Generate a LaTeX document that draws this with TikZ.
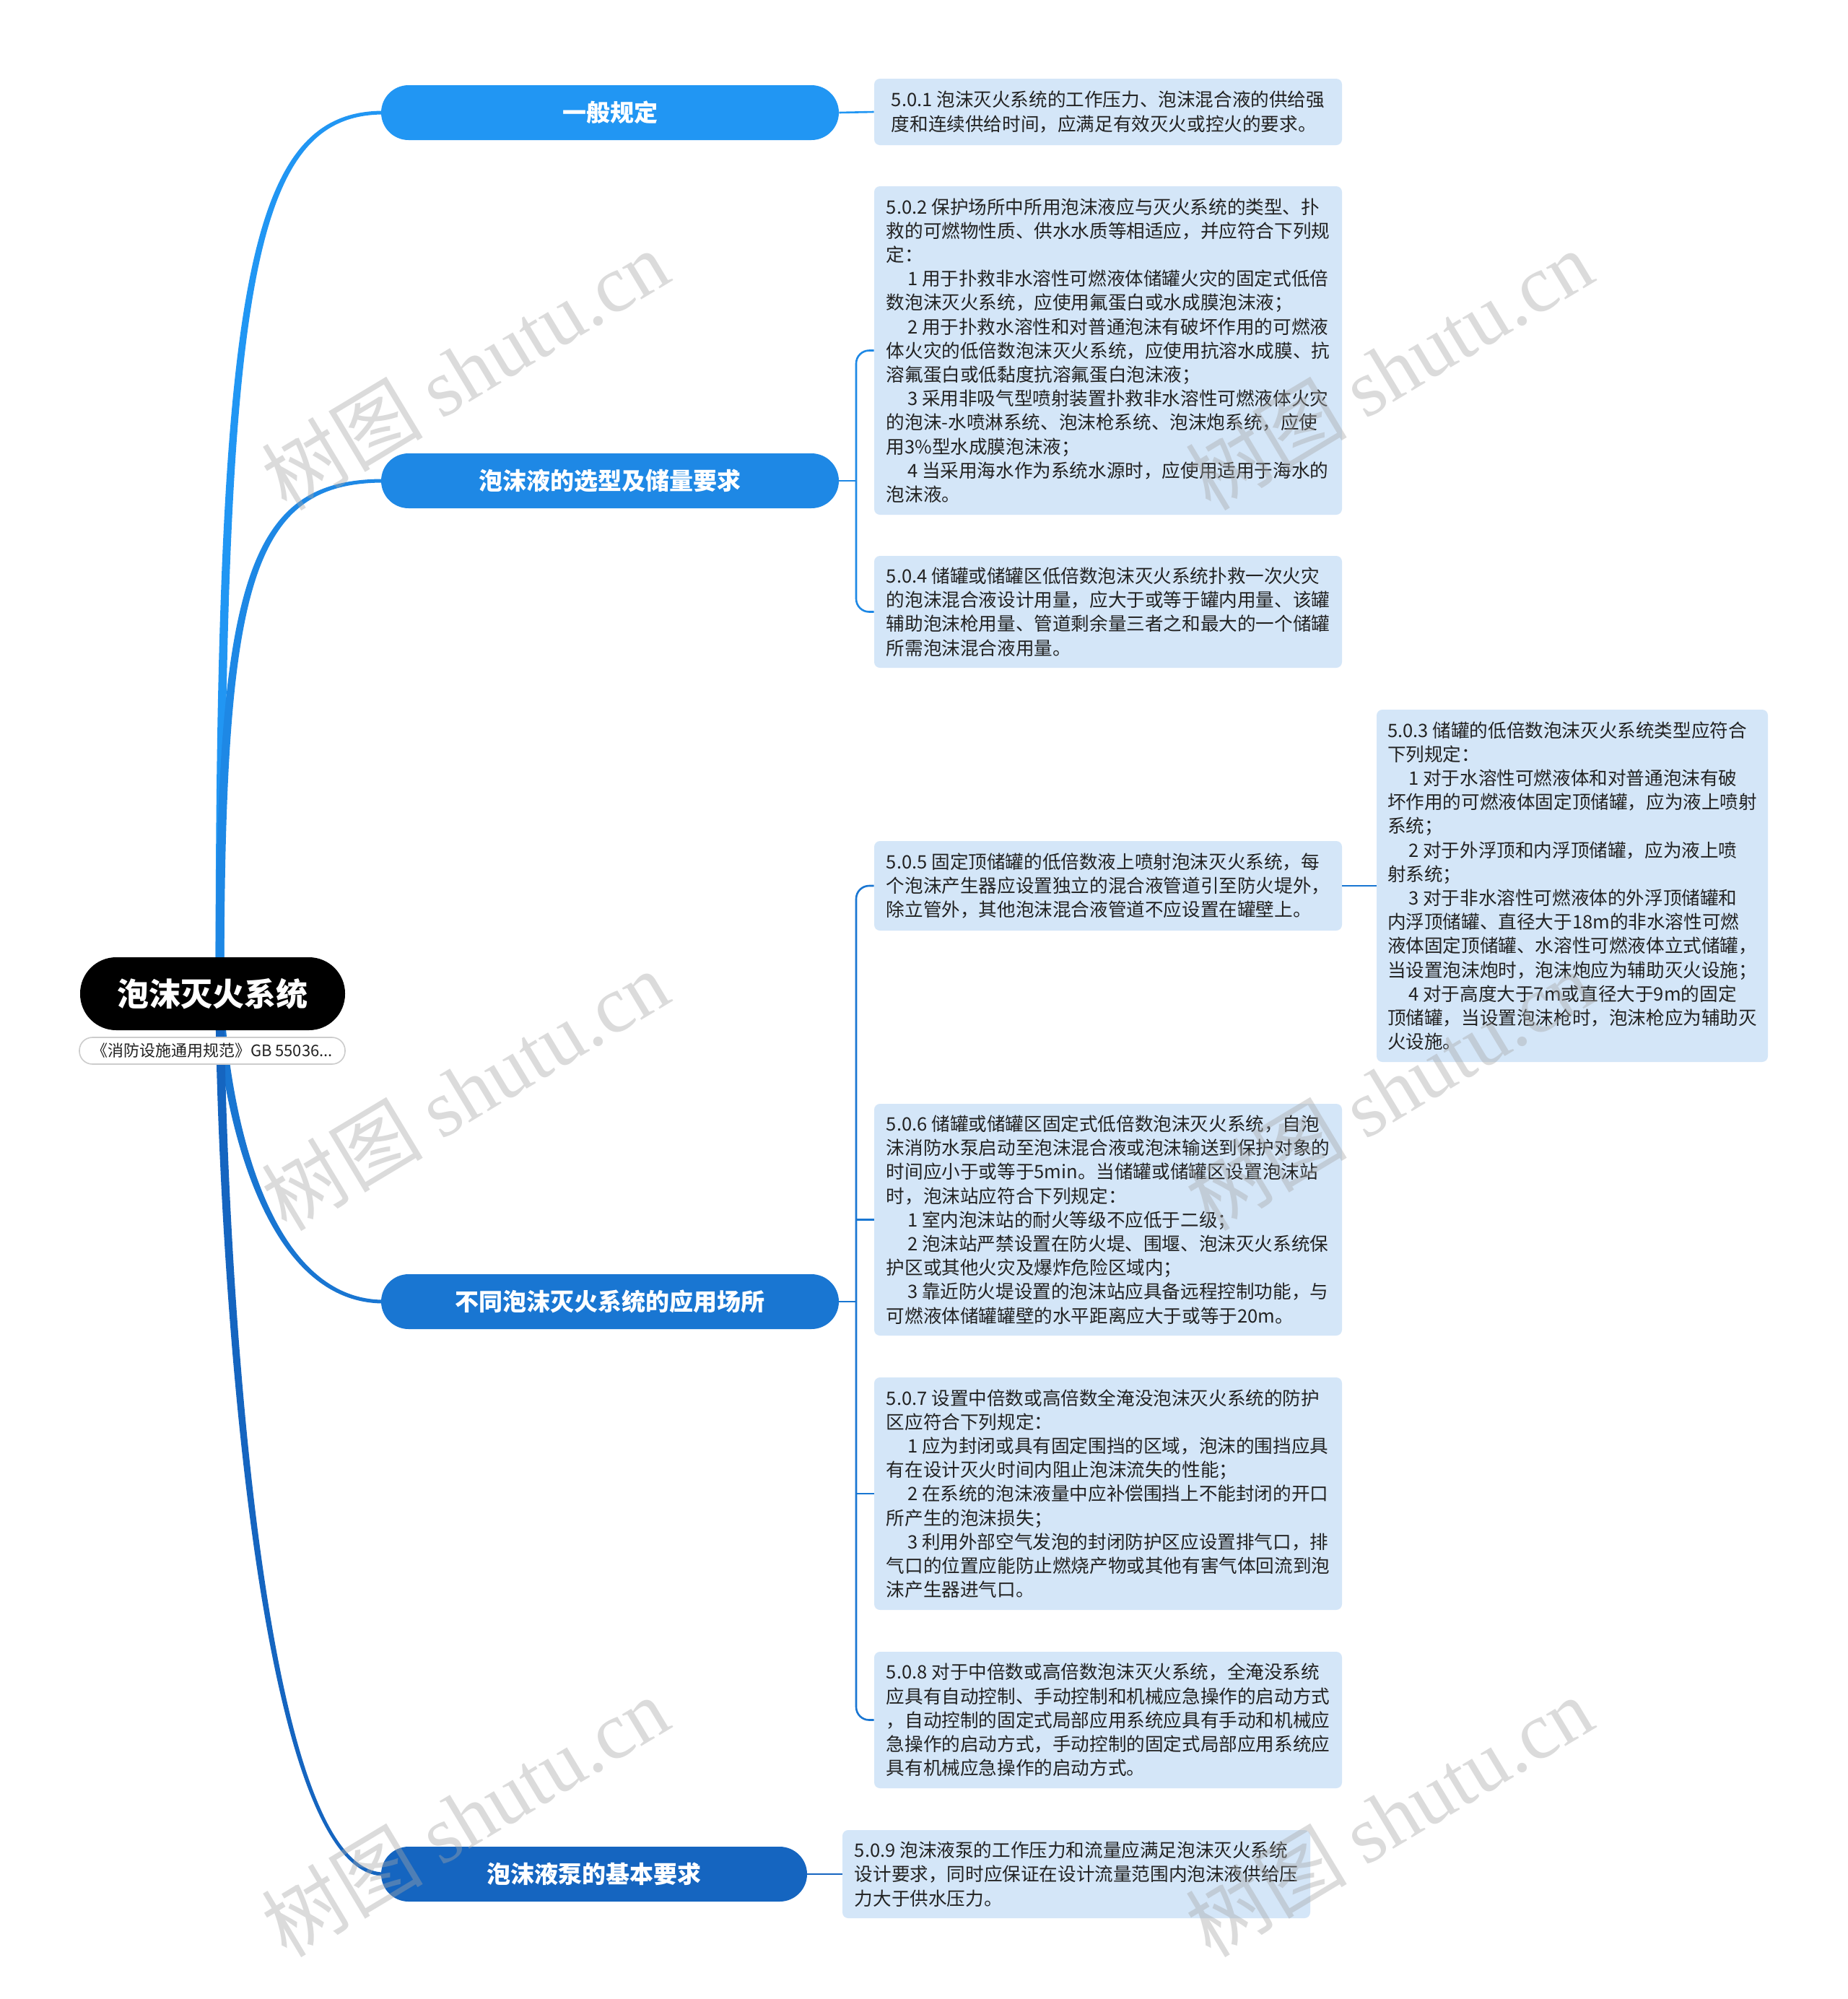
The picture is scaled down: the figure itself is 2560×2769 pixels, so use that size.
\documentclass[tikz,border=0pt]{standalone}
\usepackage{fontspec}
\setmainfont{Noto Sans CJK SC}
\newfontfamily\wmlatin{Liberation Serif}
\usetikzlibrary{calc,backgrounds}
\definecolor{cA}{HTML}{2196F3}
\definecolor{cB}{HTML}{1E88E5}
\definecolor{cC}{HTML}{1976D2}
\definecolor{cD}{HTML}{1565C0}
\definecolor{leafbg}{HTML}{D4E6F8}
\definecolor{txt}{HTML}{222222}
\definecolor{subline}{HTML}{CCCCCC}
\newcommand{\ind}{\hspace*{1.15em}}
\begin{document}
\begin{tikzpicture}[x=0.5pt,y=-0.5pt,
  leaf/.style={fill=leafbg, rounded corners=4pt, align=left, inner xsep=7pt, inner ysep=0pt,
    minimum width=324pt, text=txt, font=\fontsize{12.8pt}{16.6pt}\selectfont},
  pill/.style={rounded corners=19pt, minimum width=317pt, minimum height=38pt, inner sep=0pt,
    text=white, font=\fontsize{16.5pt}{20pt}\selectfont\bfseries},
  rootbox/.style={fill=black, rounded corners=25pt, minimum width=183.5pt, minimum height=50.5pt,
    inner sep=0pt, text=white, font=\fontsize{22pt}{26pt}\selectfont\bfseries},
  subbox/.style={fill=white, draw=subline, line width=0.8pt, rounded corners=9pt, minimum width=184pt,
    minimum height=18.5pt, inner sep=0pt, text=txt, font=\fontsize{11pt}{12pt}\selectfont},
  conn/.style={line width=1.3pt},
  wm/.style={rotate=31, text=gray!70, opacity=0.4, font=\fontsize{56pt}{60pt}\selectfont}
]
\useasboundingbox (0,0) rectangle (2560,2769);

% root
\node[rootbox] (root) at (294.5,1376.5) {泡沫灭火系统};
\node[subbox] (sub) at (294,1455.5) {《消防设施通用规范》GB 55036...};

% main branches
\node[pill, fill=cA] (p1) at (845,156) {一般规定};
\node[pill, fill=cB] (p2) at (845,666) {泡沫液的选型及储量要求};
\node[pill, fill=cC] (p3) at (845,1803) {不同泡沫灭火系统的应用场所};
\node[pill, fill=cD, minimum width=295pt] (p4) at (823,2596) {泡沫液泵的基本要求};

% leaves
\node[leaf, minimum height=46pt] (l501) at (1535,155) {5.0.1 泡沫灭火系统的工作压力、泡沫混合液的供给强\\度和连续供给时间，应满足有效灭火或控火的要求。};

\node[leaf, minimum height=227.5pt] (l502) at (1535,485.5) {5.0.2 保护场所中所用泡沫液应与灭火系统的类型、扑\\救的可燃物性质、供水水质等相适应，并应符合下列规\\定：\\\ind 1 用于扑救非水溶性可燃液体储罐火灾的固定式低倍\\数泡沫灭火系统，应使用氟蛋白或水成膜泡沫液；\\\ind 2 用于扑救水溶性和对普通泡沫有破坏作用的可燃液\\体火灾的低倍数泡沫灭火系统，应使用抗溶水成膜、抗\\溶氟蛋白或低黏度抗溶氟蛋白泡沫液；\\\ind 3 采用非吸气型喷射装置扑救非水溶性可燃液体火灾\\的泡沫-水喷淋系统、泡沫枪系统、泡沫炮系统，应使\\用3\%型水成膜泡沫液；\\\ind 4 当采用海水作为系统水源时，应使用适用于海水的\\泡沫液。};

\node[leaf, minimum height=77.5pt] (l504) at (1535,847.5) {5.0.4 储罐或储罐区低倍数泡沫灭火系统扑救一次火灾\\的泡沫混合液设计用量，应大于或等于罐内用量、该罐\\辅助泡沫枪用量、管道剩余量三者之和最大的一个储罐\\所需泡沫混合液用量。};

\node[leaf, minimum height=62pt] (l505) at (1535,1227) {5.0.5 固定顶储罐的低倍数液上喷射泡沫灭火系统，每\\个泡沫产生器应设置独立的混合液管道引至防火堤外，\\除立管外，其他泡沫混合液管道不应设置在罐壁上。};

\node[leaf, minimum width=271pt, minimum height=244pt] (l503) at (2178,1227) {5.0.3 储罐的低倍数泡沫灭火系统类型应符合\\下列规定：\\\ind 1 对于水溶性可燃液体和对普通泡沫有破\\坏作用的可燃液体固定顶储罐，应为液上喷射\\系统；\\\ind 2 对于外浮顶和内浮顶储罐，应为液上喷\\射系统；\\\ind 3 对于非水溶性可燃液体的外浮顶储罐和\\内浮顶储罐、直径大于18m的非水溶性可燃\\液体固定顶储罐、水溶性可燃液体立式储罐，\\当设置泡沫炮时，泡沫炮应为辅助灭火设施；\\\ind 4 对于高度大于7m或直径大于9m的固定\\顶储罐，当设置泡沫枪时，泡沫枪应为辅助灭\\火设施。};

\node[leaf, minimum height=160.5pt] (l506) at (1535,1689.5) {5.0.6 储罐或储罐区固定式低倍数泡沫灭火系统，自泡\\沫消防水泵启动至泡沫混合液或泡沫输送到保护对象的\\时间应小于或等于5min。当储罐或储罐区设置泡沫站\\时，泡沫站应符合下列规定：\\\ind 1 室内泡沫站的耐火等级不应低于二级；\\\ind 2 泡沫站严禁设置在防火堤、围堰、泡沫灭火系统保\\护区或其他火灾及爆炸危险区域内；\\\ind 3 靠近防火堤设置的泡沫站应具备远程控制功能，与\\可燃液体储罐罐壁的水平距离应大于或等于20m。};

\node[leaf, minimum height=161pt] (l507) at (1535,2069) {5.0.7 设置中倍数或高倍数全淹没泡沫灭火系统的防护\\区应符合下列规定：\\\ind 1 应为封闭或具有固定围挡的区域，泡沫的围挡应具\\有在设计灭火时间内阻止泡沫流失的性能；\\\ind 2 在系统的泡沫液量中应补偿围挡上不能封闭的开口\\所产生的泡沫损失；\\\ind 3 利用外部空气发泡的封闭防护区应设置排气口，排\\气口的位置应能防止燃烧产物或其他有害气体回流到泡\\沫产生器进气口。};

\node[leaf, minimum height=94.5pt] (l508) at (1535,2382.5) {5.0.8 对于中倍数或高倍数泡沫灭火系统，全淹没系统\\应具有自动控制、手动控制和机械应急操作的启动方式\\，自动控制的固定式局部应用系统应具有手动和机械应\\急操作的启动方式，手动控制的固定式局部应用系统应\\具有机械应急操作的启动方式。};

\node[leaf, minimum height=61pt] (l509) at (1491,2596) {5.0.9 泡沫液泵的工作压力和流量应满足泡沫灭火系统\\设计要求，同时应保证在设计流量范围内泡沫液供给压\\力大于供水压力。};

% tapered connectors from root to branches (behind the nodes)
\begin{scope}[on background layer]
\fill[white] (0,0) rectangle (2560,2769);
\fill[cA] ($(root.center)+(4,0)$) .. controls (298.5,400) and (340,153.5) .. ($(p1.west)+(4,-2.5)$)
  -- ($(p1.west)+(4,2.5)$) .. controls (346,158.5) and (310.5,405) .. ($(root.center)+(16,0)$) -- cycle;
\fill[cB] ($(root.center)+(4,0)$) .. controls (298.5,808) and (340,663.5) .. ($(p2.west)+(4,-2.5)$)
  -- ($(p2.west)+(4,2.5)$) .. controls (346,668.5) and (310.5,812) .. ($(root.center)+(16,0)$) -- cycle;
\fill[cC] ($(root.center)+(4,0)$) .. controls (298.5,1461) and (340,1805.5) .. ($(p3.west)+(4,2.5)$)
  -- ($(p3.west)+(4,-2.5)$) .. controls (346,1800.5) and (310.5,1457) .. ($(root.center)+(16,0)$) -- cycle;
\fill[cD] ($(root.center)+(4,0)$) .. controls (298.5,1620) and (340,2598.5) .. ($(p4.west)+(4,2.5)$)
  -- ($(p4.west)+(4,-2.5)$) .. controls (346,2593.5) and (310.5,1615) .. ($(root.center)+(16,0)$) -- cycle;
\end{scope}

% branch -> leaf connectors
\coordinate (b2) at (1186,666);
\coordinate (b3) at (1186,1803);
\draw[conn, cA] (p1.east) -- (l501.west);
\draw[conn, cB] (p2.east) -- (b2);
\draw[conn, cB, rounded corners=9pt] (l502.west) -| (b2) |- (l504.west);
\draw[conn, cC] (p3.east) -- (b3);
\draw[conn, cC, rounded corners=9pt] (l505.west) -| (b3) |- (l508.west);
\draw[conn, cC] (l506.west -| b3) -- (l506.west);
\draw[conn, cC] (l507.west -| b3) -- (l507.west);
\draw[conn, cC] (l505.east) -- (l503.west);
\draw[conn, cD] (p4.east) -- (l509.west);

% watermarks
\node[wm] (wm1) at (644,512) {树图 {\wmlatin shutu.cn}};
\node[wm] (wm2) at (1924,512) {树图 {\wmlatin shutu.cn}};
\node[wm] (wm3) at (644,1510) {树图 {\wmlatin shutu.cn}};
\node[wm] (wm4) at (1924,1510) {树图 {\wmlatin shutu.cn}};
\node[wm] (wm5) at (644,2516) {树图 {\wmlatin shutu.cn}};
\node[wm] (wm6) at (1924,2516) {树图 {\wmlatin shutu.cn}};
\end{tikzpicture}
\end{document}
